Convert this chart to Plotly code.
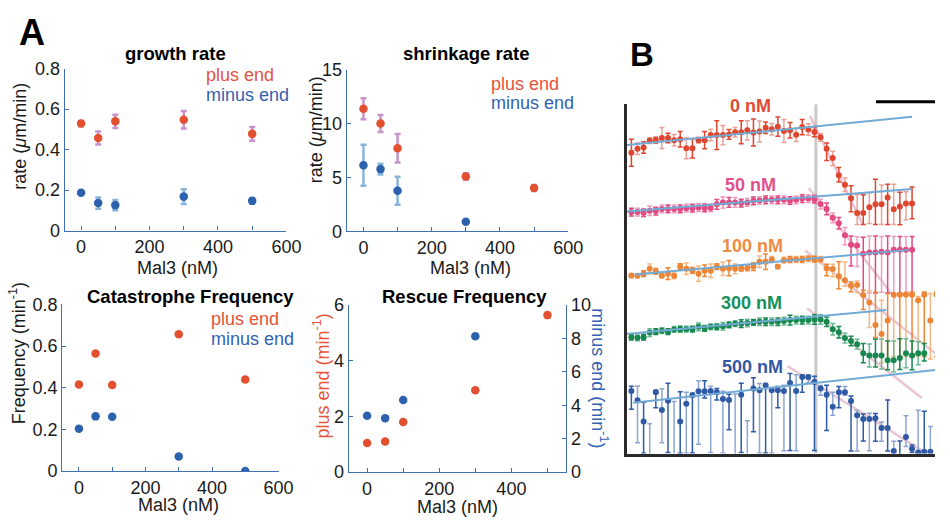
import plotly.graph_objects as go

W, H = 950, 529
FONT = "Liberation Sans, Arial, Helvetica, sans-serif"

# ---------------- Panel A data ----------------
mal3 = [0, 50, 100, 300, 500]
growth_plus = [0.529, 0.458, 0.540, 0.548, 0.478]
growth_plus_err = [0.013, 0.032, 0.033, 0.043, 0.034]
growth_minus = [0.187, 0.136, 0.126, 0.168, 0.147]
growth_minus_err = [0.010, 0.028, 0.025, 0.036, 0.013]

shrink_plus = [11.39, 10.02, 7.72, 5.10, 4.03]
shrink_plus_err = [0.97, 0.79, 1.33, 0.30, 0.28]
shrink_minus_x = [0, 50, 100, 300]
shrink_minus = [6.14, 5.78, 3.76, 0.89]
shrink_minus_err = [1.90, 0.49, 1.30, 0.0]

cat_plus = [0.415, 0.564, 0.413, 0.657, 0.439]
cat_minus = [0.203, 0.262, 0.260, 0.069, 0.0]

rescue_plus = [1.05, 1.10, 1.80, 2.94, 5.64]
rescue_minus_x = [0, 50, 100, 300]
rescue_minus = [3.38, 3.22, 4.32, 8.14]

# ---------------- Panel B data (arbitrary length units vs time frame) ----------------
h0 = [312.7, 316.7, 318.0, 325.3, 325.7, 328.0, 328.0, 325.7, 326.7, 317.3,
      317.3, 325.7, 325.7, 331.0, 331.0, 331.0, 331.7, 334.0, 334.0, 336.0,
      333.7, 334.7, 338.7, 337.0, 339.7, 335.3, 336.0, 331.3, 339.3, 336.7,
      334.3, 328.7, 316.7, 307.3, 289.3, 279.3, 265.3, 250.0, 250.0, 256.0,
      259.0, 259.0, 266.0, 254.0, 256.7, 260.0, 260.0]
eu0 = [14, 6, 6, 3, 3, 11, 5, 6, 8, 11, 10, 3, 9, 6, 15, 10, 5, 5, 12, 10, 14, 11, 6, 6, 10, 12, 8, 7, 8, 6, 5,
       4, 6, 7, 8, 7, 13, 19, 19, 15, 26, 20, 14, 26, 15, 12, 17]
ed0 = [14, 6, 6, 3, 3, 11, 5, 6, 8, 11, 10, 3, 9, 6, 15, 10, 5, 5, 12, 10, 14, 11, 6, 6, 10, 12, 8, 7, 8, 6, 5,
       4, 12, 8, 7, 7, 14, 12, 12, 17, 21, 21, 28, 16, 19, 17, 16]

h50 = [251.0, 251.0, 250.3, 252.3, 252.0, 254.3, 254.3, 254.3, 254.3, 255.0,
       255.0, 255.7, 255.3, 255.3, 259.0, 261.0, 261.0, 261.0, 260.3, 261.0,
       262.7, 263.0, 263.7, 263.7, 263.7, 263.7, 263.0, 263.7, 265.0, 265.0,
       264.3, 259.3, 254.3, 245.0, 239.3, 227.0, 217.0, 216.3, 207.7, 209.0,
       209.0, 209.7, 209.0, 211.7, 211.7, 211.7, 211.7]
eu50 = [4, 4, 4, 5, 4, 4, 4, 4, 4, 4, 4, 4, 4, 4, 5, 6, 5, 5, 4, 4, 4, 4, 4, 4, 4, 4, 4, 4, 4, 4, 4,
        5, 6, 5, 6, 8, 9, 9, 17, 17, 17, 16, 17, 14, 14, 14, 14]
ed50 = [4, 4, 4, 5, 4, 4, 4, 4, 4, 4, 4, 4, 4, 4, 5, 6, 5, 5, 4, 4, 4, 4, 4, 4, 4, 4, 4, 4, 4, 4, 4,
        5, 6, 5, 6, 10, 22, 22, 42, 42, 42, 42, 42, 45, 45, 45, 45]

h100 = [185.0, 184.7, 187.0, 192.0, 189.3, 184.7, 187.0, 184.7, 194.3, 192.0,
        190.3, 187.0, 190.0, 190.0, 194.3, 192.0, 192.7, 192.0, 192.7, 192.7,
        194.3, 199.3, 199.3, 201.7, 194.3, 201.0, 201.7, 201.7, 201.7, 202.7,
        202.0, 201.7, 192.7, 191.7, 184.3, 180.0, 174.3, 175.3, 164.7, 157.0,
        133.7, 124.3, 138.3, 165.0, 165.0, 165.0, 165.0, 159.3, 165.0, 138.3,
        165.0]
eu100 = [2, 2, 3, 5, 3, 2, 6, 3, 3, 6, 3, 8, 6, 7, 3, 7, 8, 5, 3, 3, 4, 6, 8, 3, 2, 3, 3, 3, 3, 3, 3, 3,
         4, 5, 15, 19, 4, 4, 5, 12, 34, 35, 28, 1, 1, 3, 3, 4, 3, 28, 3]
ed100 = [2, 2, 3, 5, 3, 2, 6, 3, 3, 6, 3, 8, 6, 7, 3, 7, 8, 5, 3, 3, 4, 6, 8, 3, 2, 3, 3, 3, 3, 3, 3, 3,
         8, 8, 13, 6, 6, 8, 15, 26, 13, 30, 40, 64, 64, 64, 64, 58, 64, 40, 64]

h300 = [121.0, 120.3, 121.0, 125.7, 126.7, 127.7, 126.7, 129.0, 129.3, 129.3,
        129.3, 131.7, 130.0, 131.7, 131.7, 132.3, 133.7, 135.0, 135.0, 135.7,
        136.3, 137.0, 137.0, 137.0, 137.0, 137.7, 138.7, 138.7, 138.7, 138.7,
        139.3, 139.3, 137.0, 129.3, 126.0, 120.0, 117.0, 113.7, 104.3, 102.0,
        102.0, 102.0, 97.0, 97.0, 99.3, 104.3, 102.0, 104.3, 104.3]
eu300 = [3, 3, 3, 4, 3, 3, 3, 3, 3, 3, 3, 4, 3, 3, 3, 4, 3, 3, 4, 4, 3, 4, 4, 4, 4, 4, 5, 4, 4, 4, 5, 5,
         5, 6, 6, 5, 5, 5, 10, 12, 17, 17, 20, 20, 20, 15, 15, 12, 10]
ed300 = [3, 3, 3, 4, 3, 3, 3, 3, 3, 3, 3, 4, 3, 3, 3, 4, 3, 3, 4, 4, 3, 4, 4, 4, 4, 4, 5, 4, 4, 4, 5, 5,
         5, 6, 6, 5, 5, 5, 10, 12, 12, 14, 10, 12, 12, 15, 15, 12, 8]

h500 = [65.0, 55.3, 33.3, -5.0, 63.7, 45.3, 55.0, -10.0, 33.3, 51.7,
        60.7, 64.7, 64.7, 65.0, 63.7, 56.7, 55.7, -8.0, 61.0, -6.0,
        67.7, 65.7, 70.7, 65.7, 65.7, 65.0, 73.3, 65.0, 79.7, 79.7,
        74.3, 67.7, 61.0, 48.7, 63.7, 63.7, 54.7, 39.7, 36.0, 36.0,
        36.7, 26.7, 26.7, 2.7, -3.0, 17.3, 5.0, 1.0, 2.0, 2.0]
eu500 = [5, 15, 20, 36, 2, 22, 18, 64, 31, 12, 2, 11, 11, 5, 4, 8, 6, 70, 12, 40,
         11, 7, 2, 3, 4, 6, 10, 17, 2, 2, 6, 3, 10, 15, 6, 6, 5, 5, 5, 6,
         5, 6, 29, 10, 16, 22, 4, 44, 42, 26]
ed500 = [19, 44, 33, 0, 16, 34, 54, 0, 33, 51, 60, 55, 7, 64, 8, 56, 31, 0, 60, 0,
         45, 65, 70, 65, 18, 62, 70, 62, 16, 6, 71, 7, 37, 9, 16, 3, 52, 37, 23, 33,
         24, 14, 24, 2, 0, 10, 4, 0, 0, 0]

# linear fits (growth phase) and shrinkage slopes: (t0, h0, t1, h1)
fit_growth = {"0": (-0.73, 320.7, 46.0, 350.0), "50": (-0.77, 251.7, 46.0, 275.0),
              "100": (0.56, 186.0, 45.45, 211.7), "300": (-0.89, 124.3, 41.8, 149.3),
              "500": (0.29, 52.7, 49.8, 87.0)}
fit_shrink = {"0": (29.27, 351.0, 37.94, 237.7), "50": (29.06, 276.0, 43.3, 161.0),
              "100": (28.5, 211.0, 49.8, 104.3), "300": (28.8, 151.0, 47.6, 57.7),
              "500": (25.56, 91.0, 48.15, 1.0)}
catastrophe_t = 30.24

conds = ["0", "50", "100", "300", "500"]
cond_labels = ["0 nM", "50 nM", "100 nM", "300 nM", "500 nM"]
B_h = [h0, h50, h100, h300, h500]
B_eu = [eu0, eu50, eu100, eu300, eu500]
B_ed = [ed0, ed50, ed100, ed300, ed500]
B_col = ["#e0452f", "#e04a80", "#ec8536", "#17894f", "#2f5aa5"]
B_light = ["#eba195", "#f09cbf", "#f4b786", "#6db895", "#8ea6d2"]
B_lab_col = ["#e04a33", "#e2508a", "#ee8a44", "#16905a", "#3258a4"]

PLUS = "#e3502f"
MINUS = "#2c62ad"
PLUS_ERR = "#c894c9"
MINUS_ERR = "#88b4dc"
AX = "#3f6fb5"


def px_x(a, b):
    return [a / W, b / W]


def px_y(top, bottom):
    return [1 - bottom / H, 1 - top / H]


fig = go.Figure()

tickfont = dict(family=FONT, size=18, color="#1a1a1a")


def xax(dom, rng, anchor):
    return dict(domain=dom, range=rng, tickmode="linear", tick0=0, dtick=200,
                ticks="inside", ticklen=4, tickwidth=1.2, tickcolor=AX,
                minor=dict(tick0=0, dtick=100, ticks="inside", ticklen=4, tickwidth=1.2, tickcolor=AX),
                showline=True, linecolor=AX, linewidth=1.3,
                showgrid=False, zeroline=False, anchor=anchor, tickfont=tickfont, fixedrange=True)


def yax(dom, rng, tv, tt, anchor, **kw):
    d = dict(domain=dom, range=rng, tickvals=tv, ticktext=tt, ticks="inside", ticklen=4,
             tickwidth=1.2, tickcolor=AX, showline=True, linecolor=AX, linewidth=1.3,
             showgrid=False, zeroline=False, anchor=anchor, tickfont=tickfont, fixedrange=True)
    d.update(kw)
    return d


def pts(x, y, color, xa, ya, err=None, ecol=None, size=8.5):
    kw = {}
    if err is not None:
        kw["error_y"] = dict(type="data", array=err, color=ecol, thickness=2.5, width=3)
    fig.add_trace(go.Scatter(x=x, y=y, mode="markers", xaxis=xa, yaxis=ya,
                             marker=dict(size=size, color=color), showlegend=False, **kw))


# growth rate
pts(mal3, growth_plus, PLUS, "x", "y", growth_plus_err, PLUS_ERR)
pts(mal3, growth_minus, MINUS, "x", "y", growth_minus_err, MINUS_ERR)
# shrinkage rate
pts(mal3, shrink_plus, PLUS, "x2", "y2", shrink_plus_err, PLUS_ERR)
pts(shrink_minus_x, shrink_minus, MINUS, "x2", "y2", shrink_minus_err, MINUS_ERR)
# catastrophe
pts(mal3, cat_plus, PLUS, "x3", "y3")
pts(mal3, cat_minus, MINUS, "x3", "y3")
# rescue
pts(mal3, rescue_plus, PLUS, "x4", "y4")
pts(rescue_minus_x, rescue_minus, MINUS, "x4", "y5")

# ---------------- Panel B ----------------
fig.add_trace(go.Scatter(x=[catastrophe_t, catastrophe_t], y=[0, 363], mode="lines",
                         line=dict(color="#c9c9c9", width=3), xaxis="x6", yaxis="y6",
                         showlegend=False, hoverinfo="skip"))
for c in conds:
    t0, a0, t1, a1 = fit_shrink[c]
    fig.add_trace(go.Scatter(x=[t0, t1], y=[a0, a1], mode="lines",
                             line=dict(color="rgba(215,150,175,0.55)", width=2.5),
                             xaxis="x6", yaxis="y6", showlegend=False, hoverinfo="skip"))
for k in range(5):
    h, eu, ed = B_h[k], B_eu[k], B_ed[k]
    t = list(range(len(h)))
    for parity, ecol in ((0, B_col[k]), (1, B_light[k])):
        idx = [i for i in t if i % 2 == parity]
        fig.add_trace(go.Scatter(
            x=[t[i] for i in idx], y=[h[i] for i in idx], mode="markers",
            marker=dict(size=6, color=B_col[k]),
            error_y=dict(type="data", symmetric=False, array=[eu[i] for i in idx],
                         arrayminus=[ed[i] for i in idx], color=ecol, thickness=1.5, width=2.5),
            xaxis="x6", yaxis="y6", showlegend=False))
for c in conds:
    t0, a0, t1, a1 = fit_growth[c]
    fig.add_trace(go.Scatter(x=[t0, t1], y=[a0, a1], mode="lines",
                             line=dict(color="#72aad6", width=2),
                             xaxis="x6", yaxis="y6", showlegend=False, hoverinfo="skip"))

# ---------------- Layout ----------------
ytk08 = [0, 0.2, 0.4, 0.6, 0.8]
ylb08 = ["0", "0.2", "0.4", "0.6", "0.8"]
layout = dict(
    width=W, height=H, margin=dict(l=0, r=0, t=0, b=0, pad=0),
    paper_bgcolor="white", plot_bgcolor="rgba(0,0,0,0)",
    font=dict(family=FONT, size=18, color="#1a1a1a"),
    showlegend=False,
    xaxis=xax(px_x(65.7, 291), [-48, 600], "y"),
    yaxis=yax(px_y(61, 229.3), [0, 0.8], ytk08, ylb08, "x"),
    xaxis2=xax(px_x(352.3, 577.3), [-49, 600], "y2"),
    yaxis2=yax(px_y(62.3, 230), [0, 15], [0, 5, 10, 15], ["0", "5", "10", "15"], "x2"),
    xaxis3=xax(px_x(63.3, 283), [-50, 600], "y3"),
    yaxis3=yax(px_y(306, 479), [0, 0.8], ytk08, ylb08, "x3"),
    xaxis4=xax(px_x(354.3, 575.3), [-51, 552], "y4"),
    yaxis4=yax(px_y(306.7, 480.3), [0, 6], [0, 2, 4, 6], ["0", "2", "4", "6"], "x4"),
    yaxis5=yax(px_y(306.7, 480.3), [0, 10], [0, 2, 4, 6, 8, 10], ["0", "2", "4", "6", "8", "10"], "x4",
               overlaying="y4", side="right"),
    xaxis6=dict(domain=[637 / W, 1.0], range=[-0.73, 49.76], showline=True, linecolor="#2a2a2a",
                linewidth=2.5, showticklabels=False, ticks="", showgrid=False, zeroline=False,
                anchor="y6", fixedrange=True),
    yaxis6=dict(domain=px_y(98, 461), range=[0, 363], showline=True, linecolor="#2a2a2a",
                linewidth=2.5, showticklabels=False, ticks="", showgrid=False, zeroline=False,
                anchor="x6", fixedrange=True),
)

anns = []


def ann(text, x, y, size=18, color="#1a1a1a", bold=False, angle=0, xanchor="center"):
    if bold:
        text = "<b>" + text + "</b>"
    anns.append(dict(text=text, x=x / W, y=1 - y / H, xref="paper", yref="paper",
                     showarrow=False, xanchor=xanchor, yanchor="middle", textangle=angle,
                     font=dict(family=FONT, size=size, color=color)))


ann("A", 33, 23, size=36, color="black", bold=True)
ann("B", 652, 46, size=33, color="black", bold=True)
ann("growth rate", 178.5, 45.7, size=18.5, bold=True, color="black")
ann("shrinkage rate", 473.7, 45, size=18.5, bold=True, color="black")
ann("Catastrophe Frequency", 194, 297.3, size=18.5, bold=True, color="black")
ann("Rescue Frequency", 471.5, 297.3, size=18.5, bold=True, color="black")

ann("plus end", 207, 68, color="#e5533c", xanchor="left")
ann("minus end", 207, 88, color="#3262b0", xanchor="left")
ann("plus end", 497, 77, color="#e5533c", xanchor="left")
ann("minus end", 497, 96.7, color="#3262b0", xanchor="left")
ann("plus end", 212, 321.5, color="#e5533c", xanchor="left")
ann("minus end", 212, 341.5, color="#3262b0", xanchor="left")

ann("rate (<i>μ</i>m/min)", 20, 131, angle=-90)
ann("rate (<i>μ</i>m/min)", 321, 124, angle=-90)
ann("Frequency (min<sup>-1</sup>)", 18, 357, angle=-90)
ann("plus end (min<sup>-1</sup>)", 327, 380, angle=-90, color="#e5533c")
ann("minus end (min<sup>-1</sup>)", 609, 383, angle=90, color="#3262b0")

ann("Mal3 (nM)", 180, 268)
ann("Mal3 (nM)", 478, 268)
ann("Mal3 (nM)", 181, 514)
ann("Mal3 (nM)", 465, 517)

B_lab_pos = [(763, 100), (763, 182), (765, 245), (764, 305), (765, 371)]
for k in range(5):
    ann(cond_labels[k], B_lab_pos[k][0], B_lab_pos[k][1], size=18, bold=True, color=B_lab_col[k])

layout["annotations"] = anns
layout["shapes"] = [dict(type="line", xref="paper", yref="paper", x0=890 / W, x1=1.0,
                         y0=1 - 95.3 / H, y1=1 - 95.3 / H, line=dict(color="black", width=3))]

fig.update_layout(**layout)
fig.write_html("out.html", config={"displayModeBar": False},
               post_script="document.body.style.margin='0';document.body.style.overflow='hidden';")
